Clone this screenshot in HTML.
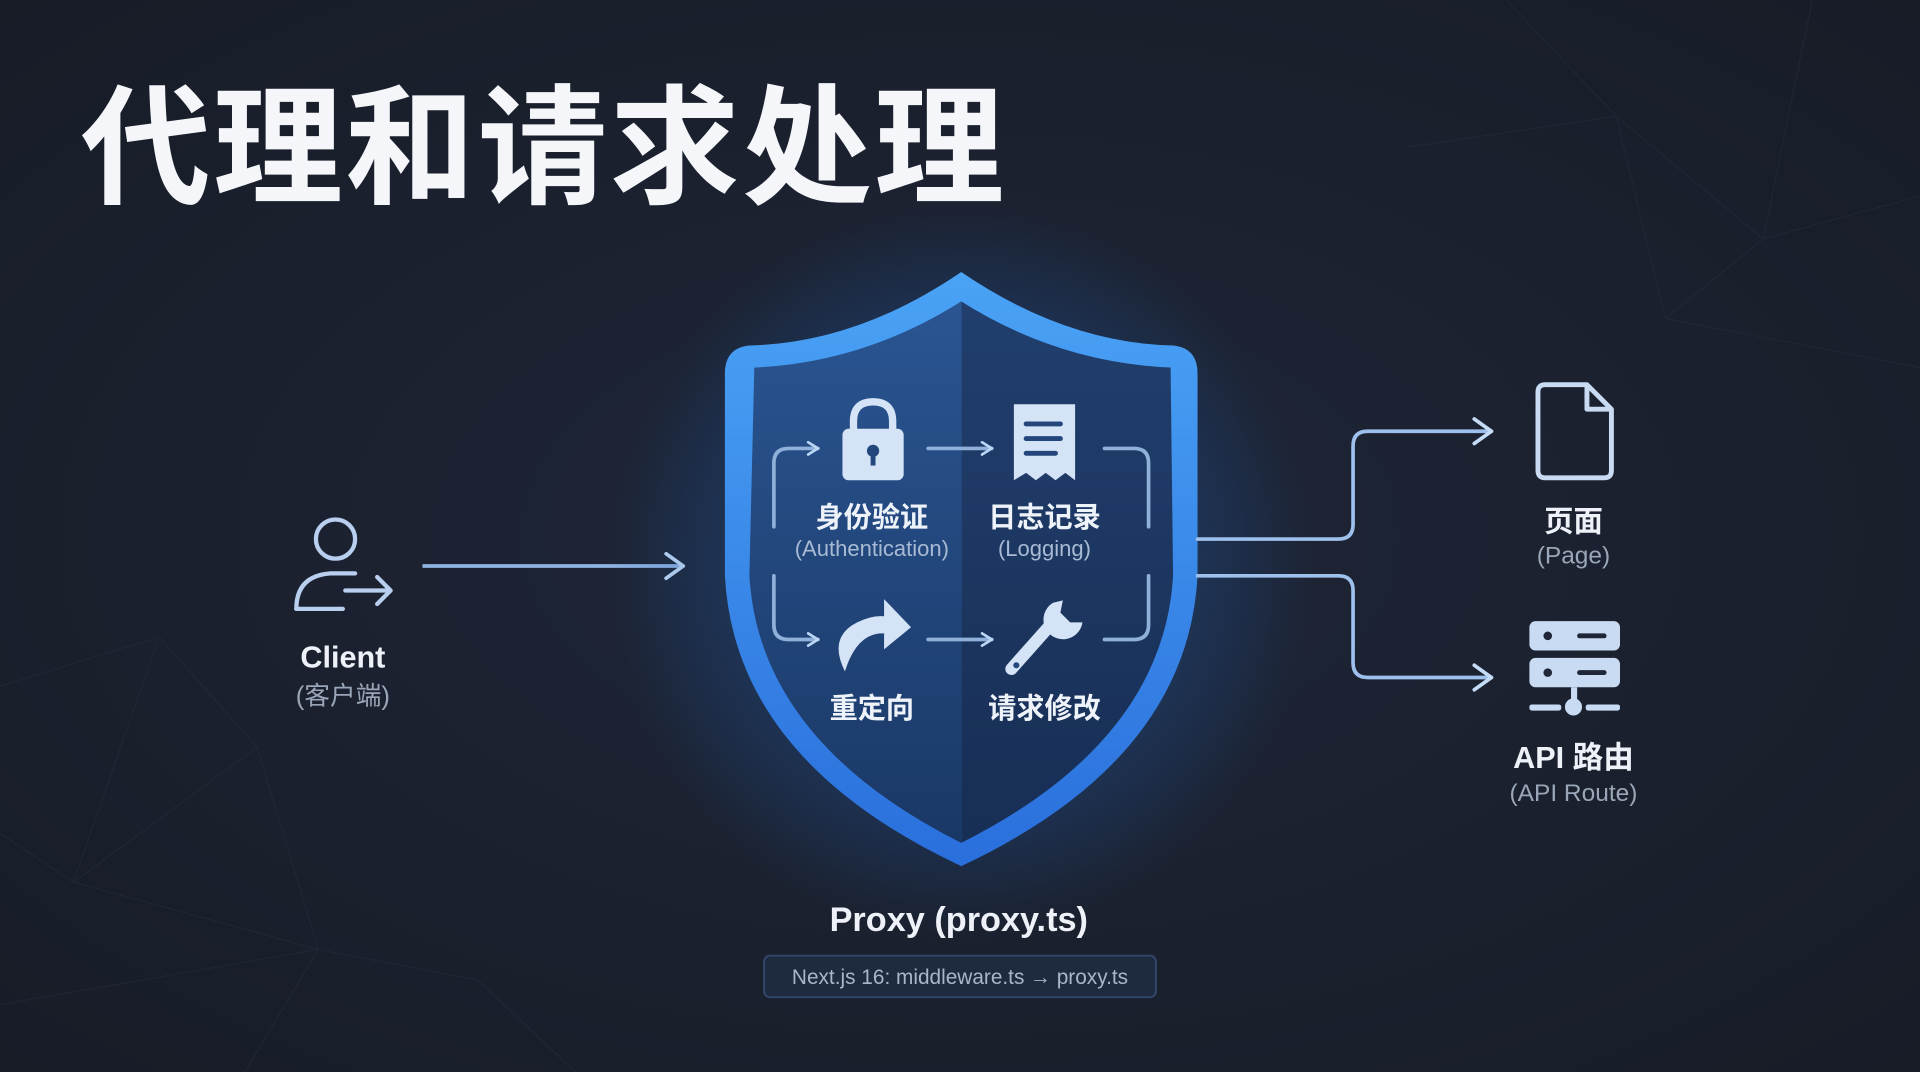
<!DOCTYPE html>
<html><head><meta charset="utf-8"><style>
html,body{margin:0;padding:0;background:#1a202d;}
svg{display:block}
text{font-family:"Liberation Sans","Noto Sans CJK SC",sans-serif;}
</style></head><body>
<svg width="1920" height="1072" viewBox="0 0 1568 875" preserveAspectRatio="none" xmlns="http://www.w3.org/2000/svg">
<defs>
<radialGradient id="bg" cx="0.5" cy="0.5" r="0.7">
<stop offset="0" stop-color="#1f2637"/><stop offset="1" stop-color="#171c27"/>
</radialGradient>
<radialGradient id="glow" cx="0.5" cy="0.5" r="0.5">
<stop offset="0" stop-color="#2f7fe0" stop-opacity="0.5"/><stop offset="0.75" stop-color="#1e5cb0" stop-opacity="0.2"/><stop offset="1" stop-color="#1e5cb0" stop-opacity="0"/>
</radialGradient>
<linearGradient id="sh" x1="0" y1="0" x2="0" y2="1">
<stop offset="0" stop-color="#4aa3f5"/><stop offset="1" stop-color="#2a6fdc"/>
</linearGradient>
<linearGradient id="lf" x1="0" y1="0" x2="0" y2="1">
<stop offset="0" stop-color="#2a5592"/><stop offset="1" stop-color="#1a3866"/>
</linearGradient>
<linearGradient id="rf" x1="0" y1="0" x2="0" y2="1">
<stop offset="0" stop-color="#213f6d"/><stop offset="1" stop-color="#172e55"/>
</linearGradient>
<marker id="ah" viewBox="0 0 12 12" refX="10" refY="6" markerWidth="12" markerHeight="12" markerUnits="userSpaceOnUse" orient="auto">
<path d="M2 1 L10 6 L2 11" fill="none" stroke="#bcd6f5" stroke-width="2.2" stroke-linecap="round" stroke-linejoin="round"/>
</marker>
<marker id="ah2" viewBox="0 0 24 24" refX="20" refY="12" markerWidth="24" markerHeight="24" markerUnits="userSpaceOnUse" orient="auto">
<path d="M6 2 L20 12 L6 22" fill="none" stroke="#c5dcf7" stroke-width="3" stroke-linecap="round" stroke-linejoin="round"/>
</marker>
</defs>
<rect width="1568" height="875" fill="url(#bg)"/>
<g stroke="#262e3f" stroke-width="1" fill="none" opacity="0.5">
<path d="M1150 120 L1320 95 L1440 195 L1568 160 M1320 95 L1360 260 L1568 300 M1440 195 L1360 260 M1230 0 L1320 95 M1480 0 L1440 195"/>
<path d="M0 560 L130 520 L210 610 L60 720 L0 680 M130 520 L60 720 M210 610 L260 775 L390 800 M60 720 L260 775 M0 820 L260 775 M260 775 L200 875 M390 800 L470 875"/>
</g>
<text x="66" y="158" font-size="106" font-weight="bold" fill="#f4f6fa" letter-spacing="2">代理和请求处理</text>

<!-- client -->
<g fill="none" stroke="#b8cff0" stroke-width="3.5" stroke-linecap="round" stroke-linejoin="round">
<circle cx="274" cy="440" r="16"/>
<path d="M242 497 Q242 470 270 468 L290 468"/>
<path d="M242 497 L280 497"/>
<path d="M282 482 L318 482 M308 471 L319 482 L308 493"/>
</g>
<text x="280" y="545" font-size="25" font-weight="bold" fill="#eef2f8" text-anchor="middle">Client</text>
<text x="280" y="575" font-size="21" fill="#9aa6b8" text-anchor="middle">(客户端)</text>
<line x1="345" y1="462" x2="558" y2="462" stroke="#8fb3e3" stroke-width="3" marker-end="url(#ah2)"/>

<!-- shield -->
<ellipse cx="785" cy="465" rx="290" ry="300" fill="url(#glow)"/>
<path d="M785 222 Q700 280 612 282 Q592 284 592 305 L592 470 Q600 620 785 707 Q970 620 978 470 L978 305 Q978 284 958 282 Q870 280 785 222 Z" fill="url(#sh)"/>
<path d="M785 246 Q706 296 616 300 L612 470 Q620 605 785 688 Z" fill="url(#lf)"/>
<path d="M785 246 Q864 296 956 300 L958 470 Q950 605 785 688 Z" fill="url(#rf)"/>

<!-- inner flow -->
<g fill="none" stroke="#8fb0d8" stroke-width="3" stroke-linecap="round" stroke-linejoin="round">
<path d="M632 430 L632 378 Q632 366 644 366 L668 366" marker-end="url(#ah)"/>
<path d="M632 470 L632 510 Q632 522 644 522 L668 522" marker-end="url(#ah)"/>
<path d="M758 366 L810 366" marker-end="url(#ah)"/>
<path d="M758 522 L810 522" marker-end="url(#ah)"/>
<path d="M902 366 L926 366 Q938 366 938 378 L938 430"/>
<path d="M902 522 L926 522 Q938 522 938 510 L938 470"/>
</g>
<!-- lock -->
<g fill="#d4e3f6">
<path d="M697 352 L697 344 Q697 328 713 328 Q729 328 729 344 L729 352" fill="none" stroke="#d4e3f6" stroke-width="6"/>
<rect x="688" y="350" width="50" height="42" rx="5"/>
<circle cx="713" cy="368" r="5" fill="#23477c"/><rect x="711" y="370" width="4" height="10" fill="#23477c"/>
</g>
<!-- doc -->
<path d="M828 330 L878 330 L878 392 L870 386 L862 392 L854 386 L846 392 L838 386 L828 392 Z" fill="#d4e3f6"/>
<g stroke="#23477c" stroke-width="4" stroke-linecap="round"><line x1="838" y1="346" x2="866" y2="346"/><line x1="838" y1="358" x2="866" y2="358"/><line x1="838" y1="370" x2="862" y2="370"/></g>
<text x="712" y="430" font-size="23" font-weight="bold" fill="#eef3fa" text-anchor="middle">身份验证</text>
<text x="712" y="454" font-size="18" fill="#a9bbd4" text-anchor="middle">(Authentication)</text>
<text x="853" y="430" font-size="23" font-weight="bold" fill="#eef3fa" text-anchor="middle">日志记录</text>
<text x="853" y="454" font-size="18" fill="#a9bbd4" text-anchor="middle">(Logging)</text>
<!-- redirect -->
<path d="M690 548 Q676 520 700 508 Q712 502 722 503 L722 489 L744 512 L722 530 L722 517 Q700 516 690 548 Z" fill="#d4e3f6"/>
<!-- wrench -->
<g fill="#d4e3f6">
<path d="M826 546 L858 510" stroke="#d4e3f6" stroke-width="10" stroke-linecap="round"/>
<path d="M860 492 A16 16 0 1 0 884 508 L874 508 L866 500 L868 490 Z"/>
<circle cx="830" cy="543" r="2.5" fill="#23477c"/>
</g>
<text x="712" y="586" font-size="23" font-weight="bold" fill="#eef3fa" text-anchor="middle">重定向</text>
<text x="853" y="586" font-size="23" font-weight="bold" fill="#eef3fa" text-anchor="middle">请求修改</text>

<!-- right connectors -->
<g fill="none" stroke="#9ec0ec" stroke-width="3" stroke-linecap="round" stroke-linejoin="round">
<path d="M978 440 L1093 440 Q1105 440 1105 428 L1105 364 Q1105 352 1117 352 L1218 352" marker-end="url(#ah2)"/>
<path d="M978 470 L1093 470 Q1105 470 1105 482 L1105 541 Q1105 553 1117 553 L1218 553" marker-end="url(#ah2)"/>
</g>
<!-- page icon -->
<path d="M1262 314 L1296 314 L1316 334 L1316 384 Q1316 390 1310 390 L1262 390 Q1256 390 1256 384 L1256 320 Q1256 314 1262 314 Z M1296 314 L1296 334 L1316 334" fill="none" stroke="#c8dbf3" stroke-width="4" stroke-linejoin="round"/>
<text x="1285" y="434" font-size="24" font-weight="bold" fill="#eef2f8" text-anchor="middle">页面</text>
<text x="1285" y="460" font-size="20" fill="#9aa6b8" text-anchor="middle">(Page)</text>
<!-- server -->
<g fill="#c8dbf3">
<rect x="1249" y="507" width="74" height="24" rx="5"/>
<rect x="1249" y="537" width="74" height="24" rx="5"/>
<rect x="1283" y="561" width="5" height="14"/>
<circle cx="1285" cy="577" r="7"/>
<rect x="1249" y="575" width="26" height="5" rx="2"/><rect x="1295" y="575" width="28" height="5" rx="2"/>
</g>
<g fill="#1f2637"><circle cx="1264" cy="519" r="3.5"/><circle cx="1264" cy="549" r="3.5"/><rect x="1288" y="517" width="24" height="4" rx="2"/><rect x="1288" y="547" width="24" height="4" rx="2"/></g>
<text x="1285" y="627" font-size="25" font-weight="bold" fill="#eef2f8" text-anchor="middle">API 路由</text>
<text x="1285" y="654" font-size="20" fill="#9aa6b8" text-anchor="middle">(API Route)</text>

<text x="783" y="760" font-size="28" font-weight="bold" fill="#eef2f8" text-anchor="middle">Proxy (proxy.ts)</text>
<rect x="624" y="780" width="320" height="34" rx="5" fill="#1d2a40" stroke="#33496b" stroke-width="1.5"/>
<text x="784" y="803" font-size="17" fill="#a8b6cb" text-anchor="middle">Next.js 16: middleware.ts → proxy.ts</text>
</svg>
</body></html>
